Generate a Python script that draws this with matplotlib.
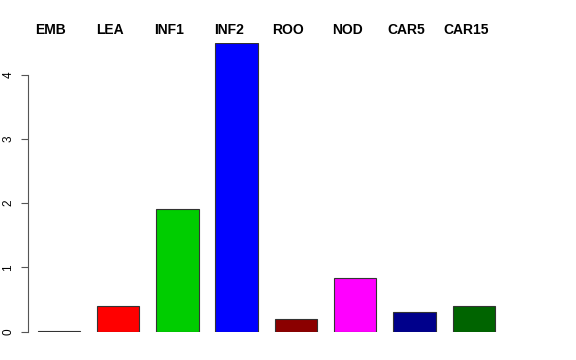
import matplotlib
matplotlib.use("Agg")
import matplotlib.pyplot as plt

# tissue expression values
tissues = ["EMB", "LEA", "INF1", "INF2", "ROO", "NOD", "CAR5", "CAR15"]
values = [0.01, 0.39, 1.91, 4.50, 0.20, 0.83, 0.30, 0.39]
colors = ["black", "#FF0000", "#00CD00", "#0000FF", "#8B0000", "#FF00FF", "#00008B", "#006400"]
yticks = [0, 1, 2, 3, 4]

W, H = 576, 360
fig = plt.figure(figsize=(W / 100, H / 100), dpi=100)

# axes placed in pixel terms: y=0 at px 331.5, 64.2 px per unit, x=0 at px 20.6, 42.36 px per unit
ORIG, UNIT = 20.6, 42.36
y0_px = 331.5
ytop_px = y0_px - 4.5 * 64.2
left_px, right_px = 28.3, 560
ax = fig.add_axes([left_px / W, (H - y0_px) / H, (right_px - left_px) / W, (y0_px - ytop_px) / H])
ax.set_xlim((left_px - ORIG) / UNIT, (right_px - ORIG) / UNIT)
ax.set_ylim(0, 4.5)

centers = [0.9 + i * 1.4 for i in range(len(tissues))]
ax.bar(centers, values, width=1.0, color=colors, edgecolor="#333333", linewidth=0.8)

for c, t in zip(centers, tissues):
    fig.text((ORIG + UNIT * (c - 0.19)) / W, 1 - 29.5 / H, t, ha="center", va="center",
             fontsize=10, fontweight="bold", family="Liberation Sans")

for s in ["top", "right", "bottom"]:
    ax.spines[s].set_visible(False)
ax.spines["left"].set_bounds(0, 4)
ax.spines["left"].set_color("#555555")
ax.set_xticks([])
ax.set_yticks(yticks)
ax.set_yticklabels([str(v) for v in yticks], rotation=90, va="center",
                   fontsize=8.5, family="Liberation Sans")
ax.tick_params(axis="y", length=5, color="#555555", pad=5)

fig.savefig("out.png", dpi=100)
